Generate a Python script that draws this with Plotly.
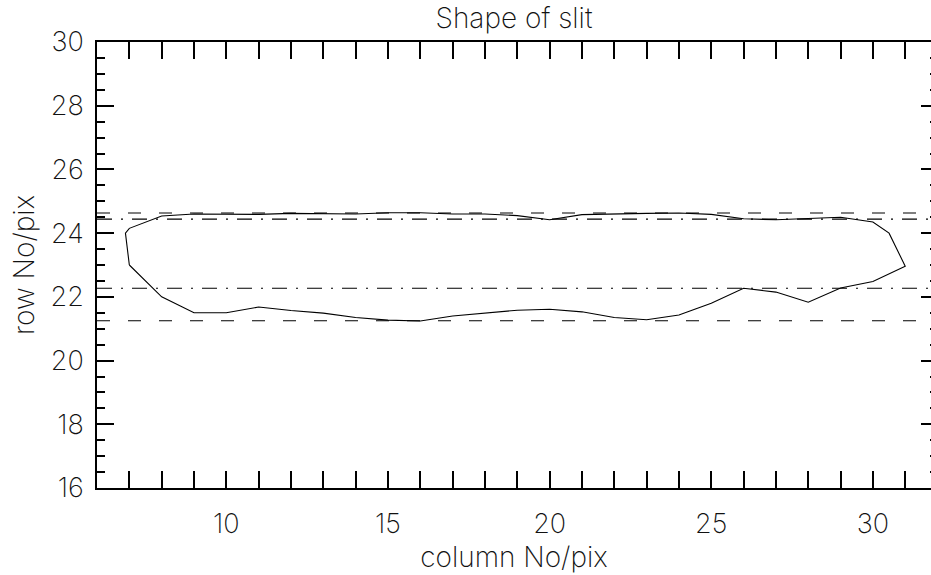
import plotly.graph_objects as go

# Slit outline traced column by column (closed contour)
col_px = [7.0, 6.88, 7.0, 8, 9, 10, 11, 12, 13, 14, 15, 16, 17, 18, 19, 20, 21, 22, 23, 24,
          25, 26, 27, 28, 29, 30, 30.5, 31,
          30, 29, 28, 27, 26, 25, 24, 23, 22, 21, 20, 19, 18, 17, 16, 15, 14, 13, 12, 11,
          10, 9, 8, 7.0]
row_px = [23.0, 24.0, 24.15, 24.54, 24.6, 24.59, 24.59, 24.62, 24.6, 24.6, 24.64, 24.64, 24.6,
          24.6, 24.55, 24.42, 24.58, 24.61, 24.62, 24.63,
          24.59, 24.45, 24.42, 24.46, 24.5, 24.35, 24.0, 22.96,
          22.48, 22.28, 21.83, 22.15, 22.27, 21.8, 21.43, 21.28, 21.35, 21.53, 21.61, 21.58,
          21.5, 21.4, 21.24, 21.27, 21.35, 21.49, 21.57, 21.68,
          21.5, 21.5, 22.0, 23.0]

# Reference levels: outer edges (dashed) and inner edges (dash-dot)
edge_levels = [24.63, 21.25]
inner_levels = [24.44, 22.27]

x_range = [6, 31.797]
y_range = [16, 30]
x_ticks = [10, 15, 20, 25, 30]
y_ticks = [16, 18, 20, 22, 24, 26, 28, 30]

FONT = "Inter, DejaVu Sans, sans-serif"
INK = "#111111"
W = 200


def f(size):
    return dict(family=FONT, size=size, color=INK, weight=W)


fig = go.Figure()

fig.add_trace(go.Scatter(x=col_px, y=row_px, mode="lines",
                         line=dict(color="black", width=1.1), hoverinfo="skip"))

for lv in edge_levels:
    fig.add_trace(go.Scatter(x=[6, 32], y=[lv, lv], mode="lines",
                             line=dict(color="black", width=1.1, dash="13px,18px"),
                             hoverinfo="skip"))
for lv in inner_levels:
    fig.add_trace(go.Scatter(x=[6, 32], y=[lv, lv], mode="lines",
                             line=dict(color="black", width=1.1, dash="15px,9px,2px,9px"),
                             hoverinfo="skip"))

# invisible carrier for the right-hand tick axis
fig.add_trace(go.Scatter(x=[x_range[0]], y=[y_range[0]], yaxis="y2", mode="none",
                         hoverinfo="skip"))

fig.update_layout(
    width=931, height=575,
    margin=dict(l=97, r=0, t=42, b=87),
    paper_bgcolor="white", plot_bgcolor="white",
    showlegend=False,
    font=f(26),
    title=dict(text="Shape of slit", x=0.5, xref="paper", xanchor="center",
               y=1 - 18 / 575, yref="container", yanchor="middle",
               font=f(28)),
    xaxis=dict(range=x_range, tickvals=x_ticks, ticks="inside", ticklen=17,
               tickwidth=1.5, tickcolor="black", showline=True, linecolor="black",
               linewidth=1.5, mirror="allticks", showgrid=False, zeroline=False,
               tickfont=f(27),
               ticklabelstandoff=11,
               minor=dict(dtick=1, tick0=0, ticks="inside", ticklen=8, tickwidth=1.5,
                          tickcolor="black", showgrid=False),
               title=dict(text="column No/pix", standoff=4, font=f(28))),
    yaxis=dict(range=y_range, tickvals=y_ticks, ticks="inside", ticklen=17,
               tickwidth=1.5, tickcolor="black", showline=True, linecolor="black",
               linewidth=1.5, mirror=False, showgrid=False, zeroline=False,
               tickfont=f(27),
               ticklabelstandoff=6,
               minor=dict(dtick=0.5, tick0=0, ticks="inside", ticklen=8, tickwidth=1.5,
                          tickcolor="black", showgrid=False),
               title=dict(text="row No/pix", standoff=8, font=f(28))),
    yaxis2=dict(range=y_range, overlaying="y", side="right", anchor="x",
                tickvals=y_ticks, ticks="inside", ticklen=10, tickwidth=1.5,
                tickcolor="black", showline=False, showgrid=False, zeroline=False,
                showticklabels=False,
                minor=dict(dtick=0.5, tick0=0, ticks="inside", ticklen=1, tickwidth=1.5,
                           tickcolor="black", showgrid=False)),
)

fig.write_html("out.html")
